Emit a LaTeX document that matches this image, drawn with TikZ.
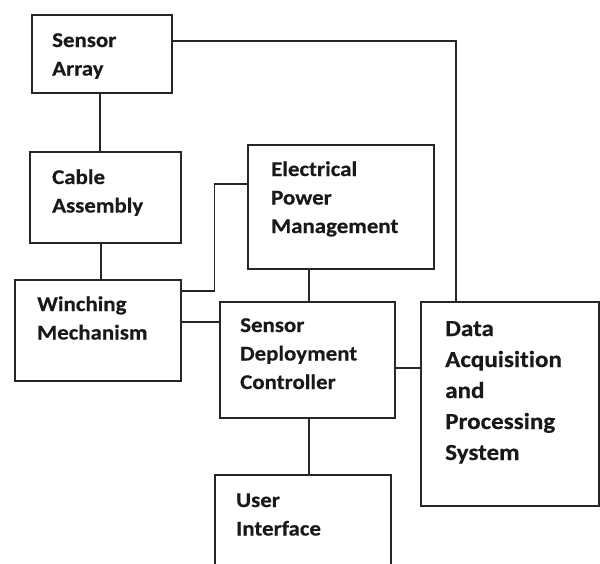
\documentclass[tikz,border=0pt]{standalone}
\usepackage{fontspec}
\setmainfont{Carlito}[FakeStretch=1.09, FakeBold=0.4, Ligatures={NoCommon}]
\begin{document}
\begin{tikzpicture}[x=1pt,y=-1pt,
  box/.style={draw=black!85, line width=1.6pt, rectangle, inner sep=0pt, anchor=north west},
  lbl/.style={anchor=base west, inner sep=0pt, text=black!90, font=\bfseries\fontsize{21}{28.5}\selectfont},
  conn/.style={draw=black!85, line width=1.6pt}]
\useasboundingbox (0,0) rectangle (600,563);
\clip (0,0) rectangle (600,563);
% boxes
\node[box, minimum width=140pt, minimum height=78pt]  (sa)  at (31,14)  {};
\node[box, minimum width=151pt, minimum height=91pt]  (ca)  at (29,151) {};
\node[box, minimum width=166pt, minimum height=101pt] (wm)  at (14,279) {};
\node[box, minimum width=186pt, minimum height=124pt] (epm) at (247,144) {};
\node[box, minimum width=175pt, minimum height=116pt] (sdc) at (219,301) {};
\node[box, minimum width=178pt, minimum height=204pt] (daq) at (420,301) {};
\node[box, minimum width=176pt, minimum height=120pt] (ui)  at (214,474) {};
% labels
\node[lbl] (saT)  at (52,47)   {\parbox[t]{4cm}{Sensor\\Array}};
\node[lbl] (caT)  at (52,184)  {\parbox[t]{4cm}{Cable\\Assembly}};
\node[lbl] (wmT)  at (37,311)  {\parbox[t]{4cm}{Winching\\Mechanism}};
\node[lbl] (epmT) at (271,176) {\parbox[t]{5cm}{Electrical\\Power\\Management}};
\node[lbl] (sdcT) at (240,332) {\parbox[t]{5cm}{Sensor\\Deployment\\Controller}};
\node[lbl, font=\bfseries\fontsize{23}{31}\selectfont] (daqT) at (445,336) {\parbox[t]{5cm}{Data\\Acquisition\\and\\Processing\\System}};
\node[lbl] (uiT)  at (236,507) {\parbox[t]{5cm}{User\\Interface}};
% connectors
\draw[conn] ([yshift=13pt]sa.east) -| ([xshift=36pt]daq.north west);
\draw[conn] ([xshift=-2pt]sa.south) -- ([xshift=-2pt]sa.south |- ca.north);
\draw[conn] ([xshift=-4.5pt]ca.south) -- ([xshift=-4.5pt]ca.south |- wm.north);
\draw[conn] ([yshift=39.5pt]wm.east) -- ++(33,0) |- ([yshift=23pt]epm.west);
\draw[conn] ([yshift=8.5pt]wm.east) -- ([yshift=8.5pt]wm.east -| sdc.west);
\draw[conn] ([xshift=-32pt]epm.south) -- ([xshift=-32pt]epm.south |- sdc.north);
\draw[conn] ([yshift=-8pt]sdc.east) -- ([yshift=-8pt]sdc.east -| daq.west);
\draw[conn] ([xshift=1.5pt]sdc.south) -- ([xshift=1.5pt]sdc.south |- ui.north);
\end{tikzpicture}
\end{document}
